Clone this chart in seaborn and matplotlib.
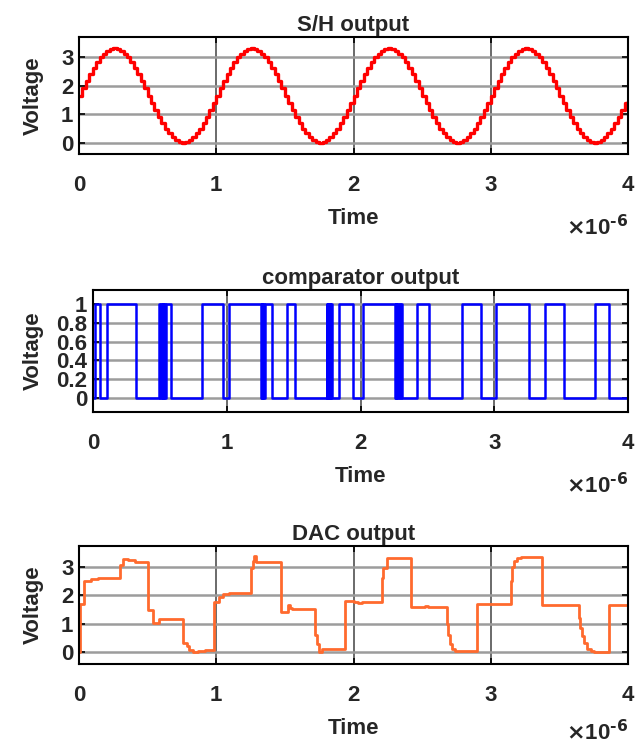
import numpy as np
import matplotlib
matplotlib.use("Agg")
import matplotlib.pyplot as plt
import seaborn as sns

# S/H output: one period of the held samples (V), repeated for 4 periods
SH_STEP_US = 0.025
SH_PERIOD = [1.65, 1.91, 2.16, 2.40, 2.62, 2.82, 2.99, 3.12, 3.22, 3.28,
             3.30, 3.28, 3.22, 3.12, 2.99, 2.82, 2.62, 2.40, 2.16, 1.91,
             1.65, 1.39, 1.14, 0.90, 0.68, 0.48, 0.32, 0.18, 0.08, 0.02,
             0.00, 0.02, 0.08, 0.18, 0.32, 0.48, 0.68, 0.90, 1.14, 1.39]
SH_PERIODS = 4
SH_LAST = 1.45

# comparator output: edge times (us) and level after each edge
COMP_T = [0, 0.012, 0.05, 0.106, 0.32,
          0.495, 0.501, 0.508, 0.514, 0.521, 0.527, 0.534, 0.540, 0.547,
          0.584, 0.817, 0.975, 1.02,
          1.255, 1.261, 1.267, 1.273, 1.279, 1.287,
          1.337, 1.453, 1.51,
          1.748, 1.753, 1.758, 1.764, 1.769, 1.774, 1.779, 1.785,
          1.836, 1.946, 2.02,
          2.255, 2.262, 2.269, 2.276, 2.283, 2.290, 2.297, 2.304, 2.31,
          2.42, 2.51, 2.76, 2.90, 3.015, 3.26, 3.38, 3.525, 3.757, 3.86, 4.0]
COMP_V = [0, 1, 0, 1, 0,
          1, 0, 1, 0, 1, 0, 1, 0, 1,
          0, 1, 0, 1,
          0, 1, 0, 1, 0, 1,
          0, 1, 0,
          1, 0, 1, 0, 1, 0, 1, 0,
          1, 0, 1,
          0, 1, 0, 1, 0, 1, 0, 1, 0,
          1, 0, 1, 0, 1, 0, 1, 0, 1, 0, 0]

# DAC output: step times (us) and level after each step (V)
DAC_T = [0, 0.005, 0.035, 0.09, 0.14, 0.30, 0.32, 0.36, 0.41,
         0.50, 0.537, 0.58, 0.76, 0.785, 0.80, 0.83, 0.87, 0.92,
         0.984, 1.02, 1.05, 1.09, 1.25, 1.265, 1.275, 1.29,
         1.47, 1.52, 1.535, 1.55, 1.72, 1.735, 1.75, 1.77,
         1.94, 2.0, 2.03, 2.06, 2.205, 2.215, 2.244,
         2.42, 2.52, 2.545, 2.68, 2.69, 2.705, 2.72, 2.74,
         2.902, 3.146, 3.155, 3.17, 3.19, 3.22,
         3.377, 3.64, 3.65, 3.665, 3.68, 3.70, 3.73, 3.75, 3.864, 4.0]
DAC_V = [0, 1.70, 2.52, 2.56, 2.62, 3.08, 3.27, 3.23, 3.18,
         1.48, 1.04, 1.17, 0.33, 0.22, 0.08, 0.01, 0.05, 0.08,
         1.78, 1.95, 2.05, 2.10, 2.98, 3.20, 3.37, 3.17,
         1.43, 1.66, 1.57, 1.52, 0.62, 0.30, 0.00, 0.10,
         1.80, 1.75, 1.72, 1.76, 2.60, 2.95, 3.32,
         1.60, 1.63, 1.60, 1.00, 0.60, 0.30, 0.12, 0.03,
         1.70, 2.50, 3.00, 3.22, 3.30, 3.36,
         1.65, 1.20, 0.85, 0.55, 0.32, 0.12, 0.03, 0.00, 1.65, 1.65]

sns.set_theme(style="white")
plt.rcParams["font.family"] = ["Liberation Sans", "DejaVu Sans"]
plt.rcParams["font.weight"] = "bold"

FS = 16
W, H = 641, 749
fig = plt.figure(figsize=(W / 100, H / 100), dpi=100)


def box(left, right, top, bottom):
    return [left / W, 1 - bottom / H, (right - left) / W, (bottom - top) / H]


ax1 = fig.add_axes(box(79, 628, 37, 154))
ax2 = fig.add_axes(box(93, 628, 290, 412))
ax3 = fig.add_axes(box(79, 628, 546, 664))

sh_v = list(np.tile(SH_PERIOD, SH_PERIODS)) + [SH_LAST]
sh_t = np.arange(len(sh_v)) * SH_STEP_US * 1e-6

sns.lineplot(x=sh_t, y=sh_v, ax=ax1, color="#ff0000", linewidth=2.4,
             drawstyle="steps-post", estimator=None, sort=False)
sns.lineplot(x=np.array(COMP_T) * 1e-6, y=COMP_V, ax=ax2, color="#0000ff",
             linewidth=1.8, drawstyle="steps-post", estimator=None, sort=False)
sns.lineplot(x=np.array(DAC_T) * 1e-6, y=DAC_V, ax=ax3, color="#ff6a2e",
             linewidth=2.0, drawstyle="steps-post", estimator=None, sort=False)

setups = [
    (ax1, "S/H output", (-0.4, 3.7), [0, 1, 2, 3], ["0", "1", "2", "3"], -74),
    (ax2, "comparator output", (-0.15, 1.15), [0, 0.2, 0.4, 0.6, 0.8, 1],
     ["0", "0.2", "0.4", "0.6", "0.8", "1"], -74),
    (ax3, "DAC output", (-0.42, 3.74), [0, 1, 2, 3], ["0", "1", "2", "3"], -69),
]
for ax, title, ylim, yt, ytl, exp_dy in setups:
    ax.set_xlim(0, 4e-6)
    ax.set_ylim(*ylim)
    ax.set_xticks(np.arange(5) * 1e-6)
    ax.set_xticklabels(["0", "1", "2", "3", "4"], fontsize=FS, fontweight="bold")
    ax.set_yticks(yt)
    ax.set_yticklabels(ytl, fontsize=FS, fontweight="bold")
    ax.tick_params(axis="both", direction="in", length=4, width=1.2, color="black",
                   top=True, right=True, left=True, bottom=True)
    ax.tick_params(axis="x", pad=15)
    ax.tick_params(axis="y", pad=4)
    ax.xaxis.grid(True, color="#6a6a6a", linewidth=1.4)
    ax.yaxis.grid(True, color="#9c9c9c", linewidth=1.8)
    ax.set_axisbelow(True)
    for sp in ax.spines.values():
        sp.set_color("black")
        sp.set_linewidth(1.5)
    ax.set_title(title, fontsize=FS, fontweight="bold", pad=4)
    ax.set_xlabel("Time", fontsize=FS, fontweight="bold", labelpad=9)
    ax.set_ylabel("Voltage", fontsize=FS, fontweight="bold")
    pos = ax.get_position()
    ax.yaxis.set_label_coords((44 / W - pos.x0) / pos.width, 0.5)
    ax.annotate(r"$\times$10$^{\text{-6}}$", xy=(1.0, 0.0), xycoords="axes fraction",
                xytext=(0, exp_dy), textcoords="offset pixels",
                ha="right", va="center", fontsize=FS, fontweight="bold")

fig.savefig("out.png", dpi=100)
